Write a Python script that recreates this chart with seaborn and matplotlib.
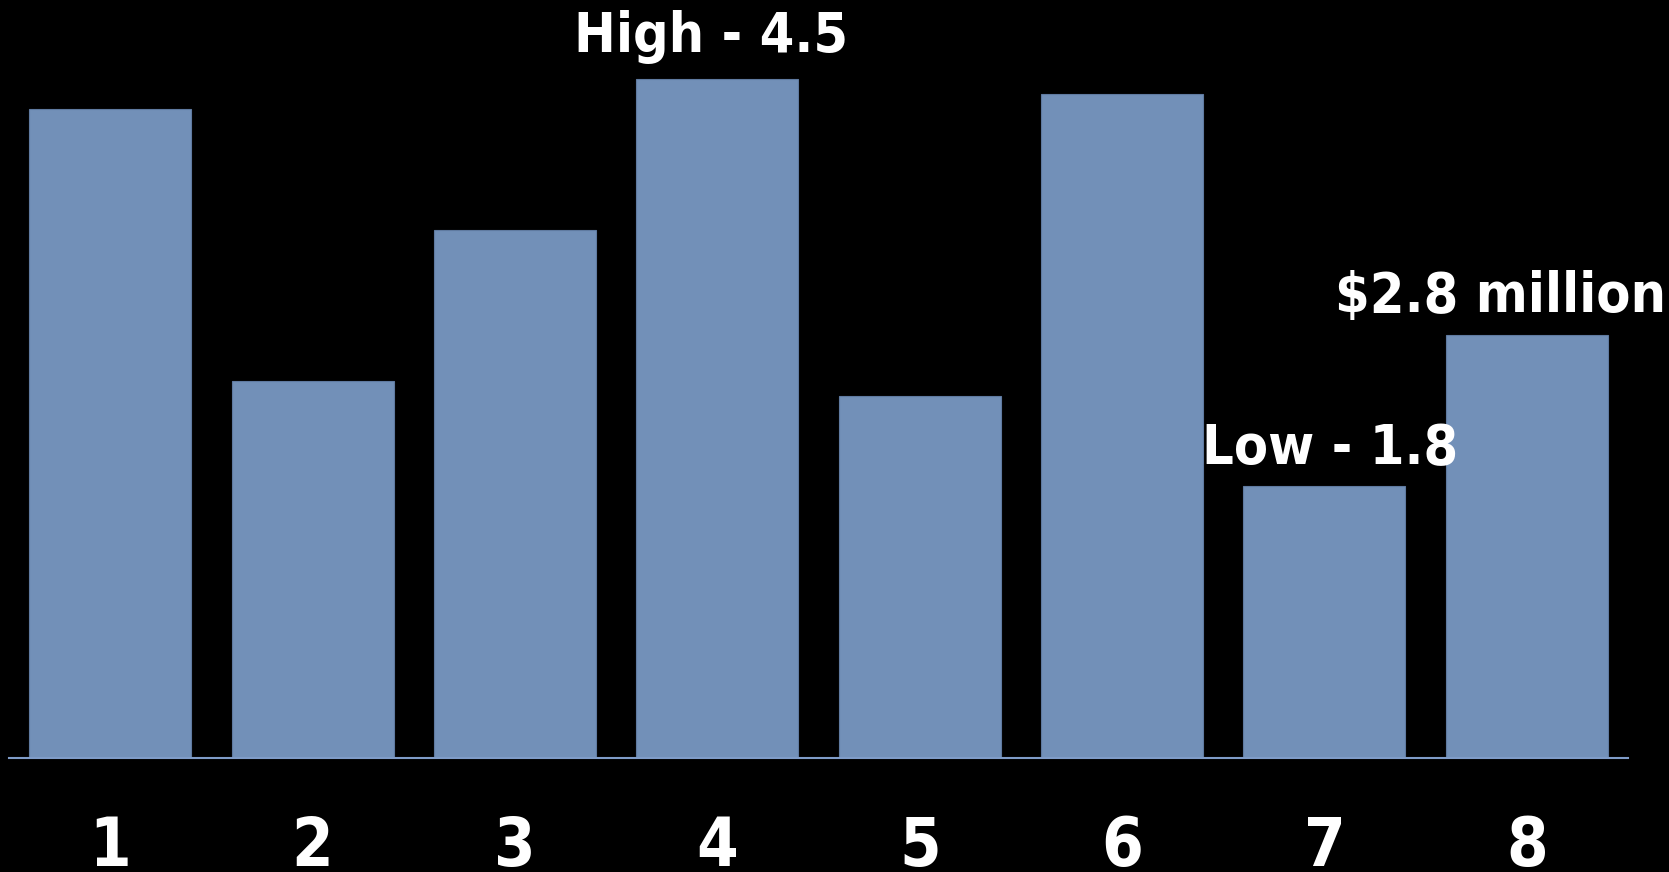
import matplotlib
matplotlib.use("Agg")
import matplotlib.pyplot as plt
import seaborn as sns
import pandas as pd

categories = ["1", "2", "3", "4", "5", "6", "7", "8"]
values = [4.3, 2.5, 3.5, 4.5, 2.4, 4.4, 1.8, 2.8]
annotations = {3: "High - 4.5", 6: "Low - 1.8", 7: "$2.8 million"}

sns.set_style("dark")
plt.rcParams["font.family"] = ["DejaVu Sans"]
plt.rcParams["font.stretch"] = "condensed"

df = pd.DataFrame({"cat": categories, "val": values})

fig = plt.figure(figsize=(16.69, 8.72), dpi=100, facecolor="black")
ax = fig.add_axes([9 / 1669, 1 - 758 / 872, (1628 - 9) / 1669, 758 / 872])
ax.set_facecolor("black")

sns.barplot(data=df, x="cat", y="val", color="#7290B8", saturation=1,
            width=0.8, ax=ax, edgecolor="#5F7AA0", linewidth=0.8)

ax.set_xlim(-0.5, 7.5)
ax.set_ylim(0, 758 / 150.9)
ax.grid(False)
for s in ["top", "right", "left"]:
    ax.spines[s].set_visible(False)
ax.spines["bottom"].set_color("#7F9CC8")
ax.spines["bottom"].set_linewidth(1.5)
ax.set_yticks([])
ax.set_xlabel("")
ax.set_ylabel("")
ax.tick_params(axis="x", length=0, pad=40, colors="white", labelsize=48)
for lbl in ax.get_xticklabels():
    lbl.set_fontweight("bold")
    lbl.set_fontstretch("condensed")

xpos = {3: 2.97, 6: 6.03, 7: 6.87}
yoff = {3: 0.18, 6: 0.15, 7: 0.155}
for i, txt in annotations.items():
    ax.text(xpos[i], values[i] + yoff[i], txt, ha="center", va="baseline",
            color="white", fontsize=40, fontweight="bold",
            fontstretch="condensed")

fig.savefig("out.png", dpi=100, facecolor="black")
